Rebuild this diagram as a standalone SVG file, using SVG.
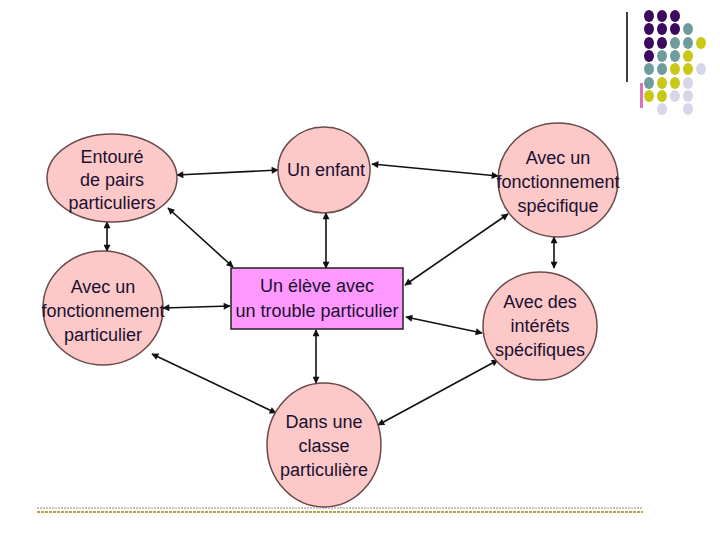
<svg xmlns="http://www.w3.org/2000/svg" width="720" height="540" viewBox="0 0 720 540">
<defs>
<marker id="ah" viewBox="0 0 10 10" refX="9" refY="5" markerWidth="9" markerHeight="7" markerUnits="userSpaceOnUse" orient="auto-start-reverse">
<path d="M0,0 L10,5 L0,10 z" fill="#111"/>
</marker>
<style>
.n{fill:#fcc8c8;stroke:#6a4a4a;stroke-width:1.5}
.c{fill:#ff99ff;stroke:#222;stroke-width:1.5}
.t{font-family:"Liberation Sans",Arial,sans-serif;font-size:18px;fill:#1a1030;text-anchor:middle}
.e{stroke:#111;stroke-width:1.6;fill:none;marker-start:url(#ah);marker-end:url(#ah)}
.p{fill:#3b0a5e}.g{fill:#6e9c9c}.y{fill:#c9c818}.l{fill:#d6d6e8}
</style>
</defs>
<rect width="720" height="540" fill="#fff"/>
<g id="decor">
<line x1="627" y1="12" x2="627" y2="82" stroke="#000" stroke-width="1.5"/>
<rect x="640" y="83" width="3" height="25" fill="#e070c0"/>
<ellipse class="p" cx="649" cy="16" rx="5" ry="6"/><ellipse class="p" cx="662" cy="16" rx="5" ry="6"/><ellipse class="p" cx="675" cy="16" rx="5" ry="6"/>
<ellipse class="p" cx="649" cy="29" rx="5" ry="6"/><ellipse class="p" cx="662" cy="29" rx="5" ry="6"/><ellipse class="p" cx="675" cy="29" rx="5" ry="6"/><ellipse class="g" cx="688" cy="29" rx="5" ry="6"/>
<ellipse class="p" cx="649" cy="43" rx="5" ry="6"/><ellipse class="p" cx="662" cy="43" rx="5" ry="6"/><ellipse class="g" cx="675" cy="43" rx="5" ry="6"/><ellipse class="g" cx="688" cy="43" rx="5" ry="6"/><ellipse class="y" cx="701" cy="43" rx="5" ry="6"/>
<ellipse class="p" cx="649" cy="56" rx="5" ry="6"/><ellipse class="g" cx="662" cy="56" rx="5" ry="6"/><ellipse class="g" cx="675" cy="56" rx="5" ry="6"/><ellipse class="y" cx="688" cy="56" rx="5" ry="6"/>
<ellipse class="g" cx="649" cy="69" rx="5" ry="6"/><ellipse class="g" cx="662" cy="69" rx="5" ry="6"/><ellipse class="y" cx="675" cy="69" rx="5" ry="6"/><ellipse class="y" cx="688" cy="69" rx="5" ry="6"/><ellipse class="l" cx="701" cy="69" rx="5" ry="6"/>
<ellipse class="g" cx="649" cy="83" rx="5" ry="6"/><ellipse class="y" cx="662" cy="83" rx="5" ry="6"/><ellipse class="y" cx="675" cy="83" rx="5" ry="6"/><ellipse class="l" cx="688" cy="83" rx="5" ry="6"/>
<ellipse class="y" cx="649" cy="96" rx="5" ry="6"/><ellipse class="y" cx="662" cy="96" rx="5" ry="6"/><ellipse class="l" cx="675" cy="96" rx="5" ry="6"/><ellipse class="l" cx="688" cy="96" rx="5" ry="6"/>
<ellipse class="l" cx="662" cy="109" rx="5" ry="6"/><ellipse class="l" cx="688" cy="109" rx="5" ry="6"/>
<line x1="37" y1="508" x2="643" y2="508" stroke="#888" stroke-width="1" stroke-dasharray="2,1"/>
<line x1="37" y1="512" x2="643" y2="512" stroke="#b8a040" stroke-width="2" stroke-dasharray="3,1"/>
</g>
<g id="connectors">
<line class="e" x1="177" y1="175" x2="278" y2="170"/>
<line class="e" x1="372" y1="164" x2="498" y2="176"/>
<line class="e" x1="107" y1="222" x2="107" y2="251"/>
<line class="e" x1="168" y1="208" x2="233" y2="267"/>
<line class="e" x1="326" y1="213" x2="326" y2="268"/>
<line class="e" x1="508" y1="214" x2="405" y2="285"/>
<line class="e" x1="554" y1="237" x2="554" y2="268"/>
<line class="e" x1="163" y1="308" x2="230" y2="306"/>
<line class="e" x1="406" y1="317" x2="482" y2="333"/>
<line class="e" x1="316" y1="330" x2="316" y2="383"/>
<line class="e" x1="152" y1="354" x2="276" y2="413"/>
<line class="e" x1="498" y1="360" x2="378" y2="425"/>
</g>
<g id="entoure">
<ellipse class="n" cx="112" cy="178" rx="65" ry="44"/>
<text class="t" x="112" y="163">Entouré</text>
<text class="t" x="112" y="186">de pairs</text>
<text class="t" x="112" y="209">particuliers</text>
</g>
<g id="enfant">
<ellipse class="n" cx="324" cy="170" rx="46" ry="43"/>
<text class="t" x="326" y="176">Un enfant</text>
</g>
<g id="fonct-specifique">
<ellipse class="n" cx="558" cy="180" rx="60" ry="57"/>
<text class="t" x="558" y="164">Avec un</text>
<text class="t" x="558" y="188">fonctionnement</text>
<text class="t" x="558" y="212">spécifique</text>
</g>
<g id="fonct-particulier">
<ellipse class="n" cx="103" cy="308" rx="60" ry="57"/>
<text class="t" x="103" y="293">Avec un</text>
<text class="t" x="103" y="317">fonctionnement</text>
<text class="t" x="103" y="341">particulier</text>
</g>
<g id="eleve">
<rect class="c" x="231" y="268" width="172" height="61"/>
<text class="t" x="317" y="292">Un élève avec</text>
<text class="t" x="317" y="317">un trouble particulier</text>
</g>
<g id="interets">
<ellipse class="n" cx="540" cy="326" rx="57" ry="54"/>
<text class="t" x="540" y="308">Avec des</text>
<text class="t" x="540" y="332">intérêts</text>
<text class="t" x="540" y="356">spécifiques</text>
</g>
<g id="classe">
<ellipse class="n" cx="324" cy="445" rx="57" ry="62"/>
<text class="t" x="324" y="428">Dans une</text>
<text class="t" x="324" y="452">classe</text>
<text class="t" x="324" y="476">particulière</text>
</g>
</svg>
